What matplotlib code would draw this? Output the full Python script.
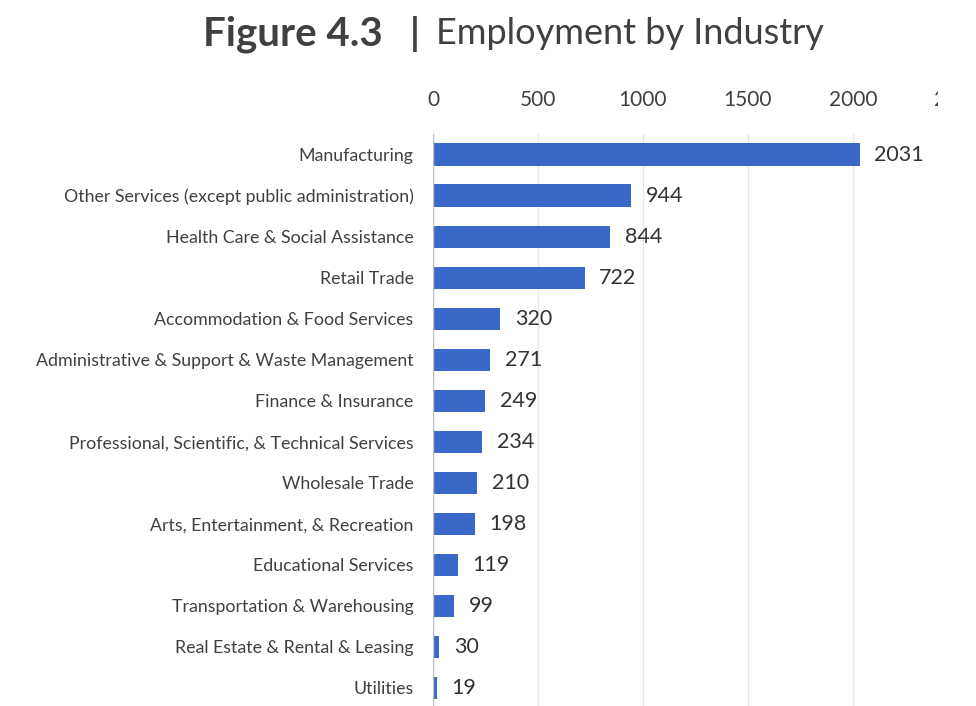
import matplotlib
matplotlib.use("Agg")
import matplotlib.pyplot as plt
from matplotlib.patches import Rectangle

categories = ["Manufacturing",
              "Other Services (except public administration)",
              "Health Care & Social Assistance",
              "Retail Trade",
              "Accommodation & Food Services",
              "Administrative & Support & Waste Management",
              "Finance & Insurance",
              "Professional, Scientific, & Technical Services",
              "Wholesale Trade",
              "Arts, Entertainment, & Recreation",
              "Educational Services",
              "Transportation & Warehousing",
              "Real Estate & Rental & Leasing",
              "Utilities"]
values = [2031, 944, 844, 722, 320, 271, 249, 234, 210, 198, 119, 99, 30, 19]
xticks = [0, 500, 1000, 1500, 2000, 2500]

plt.rcParams['font.family'] = ['Lato', 'DejaVu Sans']

fig = plt.figure(figsize=(9.76, 7.06), dpi=100)
ax = fig.add_axes([433/976, 0, (958-433)/976, (706-134)/706])

ypos = list(range(len(categories)))
ax.barh(ypos, values, height=0.54, color="#3a68c8", zorder=3)
for y, v in zip(ypos, values):
    ax.text(v + 70, y, str(v), va="center", ha="left", fontsize=15.5, color="#333333")

ax.set_xlim(0, 2500)
ax.set_ylim(13.44, -0.5)
ax.set_yticks(ypos)
ax.set_yticklabels(categories, fontsize=12.8, color="#404040")
ax.xaxis.tick_top()
ax.set_xticks(xticks)
ax.set_xticklabels([str(t) for t in xticks], fontsize=15, color="#404040")
ax.tick_params(axis="both", length=0)
ax.tick_params(axis="x", pad=17)
ax.tick_params(axis="y", pad=14)
ax.grid(axis="x", color="#e6e6e6", linewidth=1, zorder=0)
for s in ax.spines.values():
    s.set_visible(False)
ax.axvline(0, color="#bfbfbf", linewidth=1, zorder=4)

# The reference image is cropped at its right edge
fig.patches.append(Rectangle((938/976, 0), 1, 1, transform=fig.transFigure,
                             facecolor="white", edgecolor="none", zorder=10))

fig.text(0.392, 0.952, "Figure 4.3", fontsize=29, fontweight="bold", color="#404040", ha="right", va="center")
fig.text(0.425, 0.952, "|", fontsize=27, fontweight="bold", color="#404040", ha="center", va="center")
fig.text(0.447, 0.952, "Employment by Industry", fontsize=26, color="#404040", ha="left", va="center")

fig.savefig("out.png", dpi=100)
